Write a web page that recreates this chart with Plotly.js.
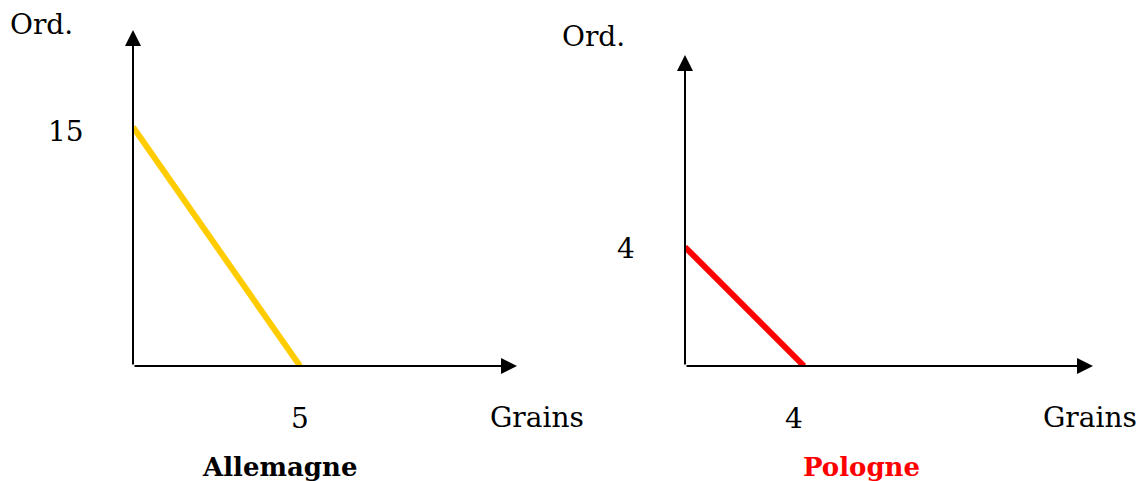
<!DOCTYPE html>
<html>
<head>
<meta charset="utf-8">
<script src="https://cdn.plot.ly/plotly-3.0.1.min.js"></script>
<style>
html,body{margin:0;padding:0;background:#fff;}
#chart{width:1144px;height:481px;}
</style>
</head>
<body>
<div id="chart"></div>
<script>
// Data
const countries = ["Allemagne", "Pologne"];
const grainsMax = [5, 4];      // x-intercepts (Grains)
const ordMax = [15, 4];        // y-intercepts (Ord.)
const lineColors = ["#FFCC00", "#FF0000"];
const titleColors = ["#000000", "#FF0000"];
const xLabel = "Grains";
const yLabel = "Ord.";

const W = 1144, H = 481;
const FONT = "DejaVu Serif";

// axis geometry (pixels)
const panels = [
  {x0: 133, x1: 517, y0: 366, y1: 30, pxPerX: (300 - 133) / grainsMax[0], pxPerY: (366 - 127) / ordMax[0]},
  {x0: 685, x1: 1093, y0: 366, y1: 55, pxPerX: (804 - 685) / grainsMax[1], pxPerY: (366 - 247) / ordMax[1]}
];

const traces = [];
const annotations = [];
const layout = {
  width: W, height: H,
  margin: {l: 0, r: 0, t: 0, b: 0},
  paper_bgcolor: "#fff", plot_bgcolor: "rgba(0,0,0,0)",
  showlegend: false,
  font: {family: FONT, size: 28, color: "#000"}
};

panels.forEach((p, i) => {
  const sx = i === 0 ? "" : "2";
  const xr = (p.x1 - p.x0) / p.pxPerX;
  const yr = (p.y0 - p.y1) / p.pxPerY;
  layout["xaxis" + sx] = {
    domain: [p.x0 / W, p.x1 / W], range: [0, xr],
    showgrid: false, zeroline: false, showline: false, showticklabels: false, ticks: "",
    anchor: "y" + sx, fixedrange: true
  };
  layout["yaxis" + sx] = {
    domain: [(H - p.y0) / H, (H - p.y1) / H], range: [0, yr],
    showgrid: false, zeroline: false, showline: false, showticklabels: false, ticks: "",
    anchor: "x" + sx, fixedrange: true
  };
  traces.push({
    type: "scatter", mode: "lines",
    x: [0, grainsMax[i]], y: [ordMax[i], 0],
    xaxis: "x" + sx, yaxis: "y" + sx,
    line: {color: lineColors[i], width: 6},
    hoverinfo: "skip", cliponaxis: false
  });
  // axis arrows
  const arrowCommon = {
    xref: "x" + sx, yref: "y" + sx, axref: "x" + sx, ayref: "y" + sx,
    text: "", showarrow: true, arrowhead: 2, arrowsize: 1.6, arrowwidth: 2, arrowcolor: "#000",
    standoff: 0, startstandoff: 0
  };
  annotations.push(Object.assign({}, arrowCommon, {x: xr, y: 0, ax: 0, ay: 0}));
  annotations.push(Object.assign({}, arrowCommon, {x: 0, y: yr, ax: 0, ay: 0}));
  // tick labels
  annotations.push({
    xref: "x" + sx, yref: "y" + sx, x: 0, y: ordMax[i], text: String(ordMax[i]),
    showarrow: false, xanchor: "center", yanchor: "middle",
    xshift: i === 0 ? -67.5 : -59, yshift: i === 0 ? -4 : -2,
    font: {family: FONT, size: 28, color: "#000"}
  });
  annotations.push({
    xref: "x" + sx, yref: "y" + sx, x: grainsMax[i], y: 0, text: String(grainsMax[i]),
    showarrow: false, xanchor: "center", yanchor: "middle",
    xshift: i === 0 ? 0 : -10, yshift: -52,
    font: {family: FONT, size: 28, color: "#000"}
  });
});

// axis labels and titles (paper positions)
const textItems = [
  {t: yLabel, cx: 41, cy: 25},
  {t: yLabel, cx: 593, cy: 36},
  {t: xLabel, cx: 537, cy: 418},
  {t: xLabel, cx: 1090, cy: 418}
];
textItems.forEach(o => annotations.push({
  xref: "paper", yref: "paper", x: o.cx / W, y: (H - o.cy) / H, text: o.t,
  showarrow: false, xanchor: "center", yanchor: "middle",
  font: {family: FONT, size: 28, color: "#000"}
}));
const titlePos = [{cx: 279, cy: 467}, {cx: 861, cy: 467}];
countries.forEach((c, i) => annotations.push({
  xref: "paper", yref: "paper", x: titlePos[i].cx / W, y: (H - titlePos[i].cy) / H,
  text: "<b>" + c + "</b>", showarrow: false, xanchor: "center", yanchor: "middle",
  font: {family: FONT, size: 26, color: titleColors[i]}
}));

layout.annotations = annotations;
Plotly.newPlot("chart", traces, layout, {displayModeBar: false, staticPlot: true});
</script>
</body>
</html>
